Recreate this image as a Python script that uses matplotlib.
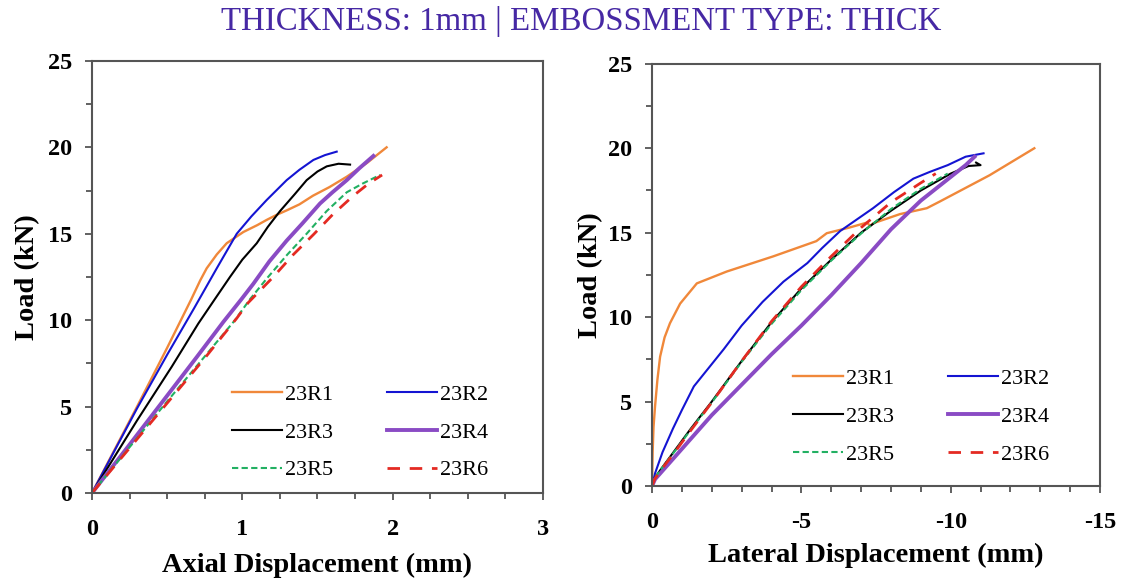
import matplotlib
matplotlib.use("Agg")
import matplotlib.pyplot as plt
from matplotlib.ticker import MultipleLocator

plt.rcParams['axes.unicode_minus'] = False
plt.rcParams['font.family'] = ['Liberation Serif', 'DejaVu Serif']

labels = ["23R1", "23R2", "23R3", "23R4", "23R5", "23R6"]

# ---- Axial displacement (mm) vs load (kN) ----
ax_r1_x = [0, 0.15, 0.3, 0.5, 0.66, 0.72, 0.763, 0.83, 0.896, 1.007, 1.1, 1.162, 1.23, 1.295, 1.38, 1.47, 1.58, 1.695, 1.83, 1.96]
ax_r1_y = [0, 2.5, 5.0, 8.4, 11.2, 12.3, 13.0, 13.8, 14.45, 15.1, 15.5, 15.8, 16.1, 16.35, 16.7, 17.2, 17.7, 18.3, 19.1, 20.0]
ax_r2_x = [0, 0.15, 0.3, 0.5, 0.68, 0.83, 0.963, 1.06, 1.162, 1.295, 1.38, 1.473, 1.55, 1.628]
ax_r2_y = [0, 2.45, 4.9, 8.0, 10.7, 13.0, 15.0, 16.0, 16.95, 18.1, 18.7, 19.27, 19.55, 19.75]
ax_r3_x = [0, 0.15, 0.3, 0.53, 0.707, 0.816, 0.918, 1.0, 1.096, 1.17, 1.25, 1.35, 1.428, 1.5, 1.562, 1.64, 1.717]
ax_r3_y = [0, 2.1, 4.2, 7.3, 9.8, 11.2, 12.5, 13.5, 14.45, 15.4, 16.3, 17.3, 18.1, 18.6, 18.9, 19.05, 19.0]
ax_r4_x = [0, 0.25, 0.484, 0.7, 0.874, 0.993, 1.073, 1.18, 1.295, 1.4, 1.517, 1.6, 1.695, 1.78, 1.872]
ax_r4_y = [0, 2.8, 5.45, 7.9, 9.9, 11.2, 12.1, 13.4, 14.6, 15.6, 16.75, 17.4, 18.1, 18.8, 19.5]
ax_r5_x = [0, 0.25, 0.5, 0.75, 0.951, 1.05, 1.162, 1.3, 1.428, 1.56, 1.695, 1.8, 1.916]
ax_r5_y = [0, 2.65, 5.3, 7.9, 10.0, 11.2, 12.4, 13.8, 15.0, 16.3, 17.4, 17.9, 18.4]
ax_r6_x = [0, 0.25, 0.5, 0.75, 0.962, 1.038, 1.206, 1.34, 1.473, 1.6, 1.739, 1.84, 1.93]
ax_r6_y = [0, 2.6, 5.2, 7.8, 10.1, 11.0, 12.5, 13.8, 14.95, 16.1, 17.2, 17.9, 18.4]

# ---- Lateral displacement (mm) vs load (kN) ----
lat_r1_x = [0, -0.02, -0.05, -0.1, -0.18, -0.27, -0.42, -0.6, -0.94, -1.5, -2.5, -4.06, -5.5, -5.85, -6.6, -7.2, -7.3, -7.41, -8.3, -9.2, -9.64, -11.3, -12.8]
lat_r1_y = [0, 2.0, 3.5, 4.7, 6.3, 7.66, 8.8, 9.64, 10.8, 12.0, 12.7, 13.6, 14.5, 14.97, 15.3, 15.6, 15.4, 15.56, 16.1, 16.45, 16.85, 18.4, 20.0]
lat_r2_x = [0, -0.1, -0.35, -0.7, -1.0, -1.4, -1.9, -2.4, -3.0, -3.7, -4.4, -5.2, -5.7, -6.3, -7.4, -8.1, -8.75, -9.3, -9.9, -10.5, -11.1]
lat_r2_y = [0, 0.75, 2.0, 3.4, 4.5, 5.9, 7.0, 8.1, 9.5, 10.9, 12.1, 13.2, 14.1, 15.1, 16.45, 17.4, 18.2, 18.6, 19.0, 19.5, 19.7]
lat_r3_x = [0, -0.1, -0.3, -0.8, -1.3, -2.0, -3.0, -4.0, -5.0, -6.0, -7.0, -8.0, -9.0, -10.0, -10.6, -11.0, -10.85]
lat_r3_y = [0, 0.5, 1.0, 2.2, 3.4, 5.0, 7.4, 9.7, 11.7, 13.4, 15.0, 16.3, 17.5, 18.5, 18.95, 19.0, 19.15]
lat_r4_x = [0, -0.1, -0.3, -1.0, -2.0, -3.0, -4.0, -5.0, -6.0, -7.0, -8.0, -9.0, -10.0, -10.5, -10.8]
lat_r4_y = [0, 0.4, 0.8, 2.2, 4.2, 6.0, 7.8, 9.5, 11.3, 13.2, 15.2, 16.9, 18.3, 19.0, 19.5]
lat_r5_x = [0, -0.1, -0.3, -0.8, -1.3, -2.0, -3.0, -4.0, -5.0, -6.0, -7.0, -8.0, -9.0, -9.9]
lat_r5_y = [0, 0.5, 1.0, 2.15, 3.35, 4.95, 7.35, 9.6, 11.6, 13.35, 14.95, 16.4, 17.6, 18.5]
lat_r6_x = [0, -0.1, -0.3, -0.8, -1.3, -2.0, -3.0, -4.0, -5.0, -6.0, -7.0, -8.0, -9.0, -9.5]
lat_r6_y = [0, 0.45, 0.95, 2.1, 3.3, 4.95, 7.4, 9.75, 11.8, 13.6, 15.3, 16.8, 17.95, 18.5]

x_ticks_axial = [0, 1, 2, 3]
x_ticks_lat = [0, -5, -10, -15]
x_ticklabels_lat = ["0", "-5", "-10", "-15"]
y_ticks = [0, 5, 10, 15, 20, 25]

title = "THICKNESS: 1mm | EMBOSSMENT TYPE: THICK"

colors = ["#F0883A", "#1414D2", "#000000", "#8A4BC4", "#22B062", "#E42A22"]
lws = [1.7, 1.5, 1.5, 2.8, 1.5, 2.0]
dashes = [None, None, None, None, (3, 1.6), (4.5, 3.5)]

fig = plt.figure(figsize=(11.33, 5.8), dpi=100)
axL = fig.add_axes([0.0812, 0.150, 0.398, 0.745])
axR = fig.add_axes([0.5755, 0.162, 0.3954, 0.728])

left_series = [(ax_r1_x, ax_r1_y), (ax_r2_x, ax_r2_y), (ax_r3_x, ax_r3_y),
               (ax_r4_x, ax_r4_y), (ax_r5_x, ax_r5_y), (ax_r6_x, ax_r6_y)]
right_series = [(lat_r1_x, lat_r1_y), (lat_r2_x, lat_r2_y), (lat_r3_x, lat_r3_y),
                (lat_r4_x, lat_r4_y), (lat_r5_x, lat_r5_y), (lat_r6_x, lat_r6_y)]

handles = {}
for ax, series in ((axL, left_series), (axR, right_series)):
    hs = []
    for (xs, ys), lab, c, lw, d in zip(series, labels, colors, lws, dashes):
        ln, = ax.plot(xs, ys, color=c, lw=lw, label=lab)
        if d is not None:
            ln.set_dashes(d)
        hs.append(ln)
    handles[ax] = hs

axL.set_xlim(0, 3)
axL.set_ylim(0, 25)
axL.set_xticks(x_ticks_axial)
axL.xaxis.set_minor_locator(MultipleLocator(0.25))
axL.set_yticks(y_ticks)

axR.set_xlim(0, -15)
axR.set_ylim(0, 25)
axR.set_xticks(x_ticks_lat)
axR.set_xticklabels(x_ticklabels_lat)
axR.xaxis.set_minor_locator(MultipleLocator(1))
axR.set_yticks(y_ticks)

for ax in (axL, axR):
    for s in ax.spines.values():
        s.set_color("#555555")
        s.set_linewidth(1.5)
    ax.yaxis.set_minor_locator(MultipleLocator(2.5))
    ax.tick_params(which='both', direction='out', top=False, right=False,
                   color="#555555", width=1.3, labelsize=17.5)
    ax.tick_params(which='major', length=5)
    ax.tick_params(which='minor', length=4.5)
    ax.tick_params(axis='x', which='major', pad=14)
    ax.tick_params(axis='y', which='major', pad=9)
    for lab in ax.get_xticklabels() + ax.get_yticklabels():
        lab.set_fontweight('bold')

axL.set_xlabel("Axial Displacement (mm)", fontsize=20.5, fontweight='bold', labelpad=9)
axR.set_xlabel("Lateral Displacement (mm)", fontsize=20.5, fontweight='bold', labelpad=7)
axL.set_ylabel("Load (kN)", fontsize=20.5, fontweight='bold', labelpad=6)
axR.set_ylabel("Load (kN)", fontsize=20.5, fontweight='bold', labelpad=4)

order = [0, 2, 4, 1, 3, 5]  # row-major layout in two columns
leg_kw = dict(ncol=2, frameon=False, fontsize=16, handlelength=2.25,
              handletextpad=0.15, columnspacing=2.4, labelspacing=0.78,
              borderpad=0, borderaxespad=0, loc='upper left')
for ax, anchor in ((axL, (0.31, 0.252)), (axR, (0.315, 0.278))):
    hs = handles[ax]
    ax.legend([hs[i] for i in order], [labels[i] for i in order],
              bbox_to_anchor=anchor, **leg_kw)

fig.text(0.513, 0.963, title, ha='center', va='center', fontsize=23.7, color="#4628A4")

fig.savefig("out.png", dpi=100)
